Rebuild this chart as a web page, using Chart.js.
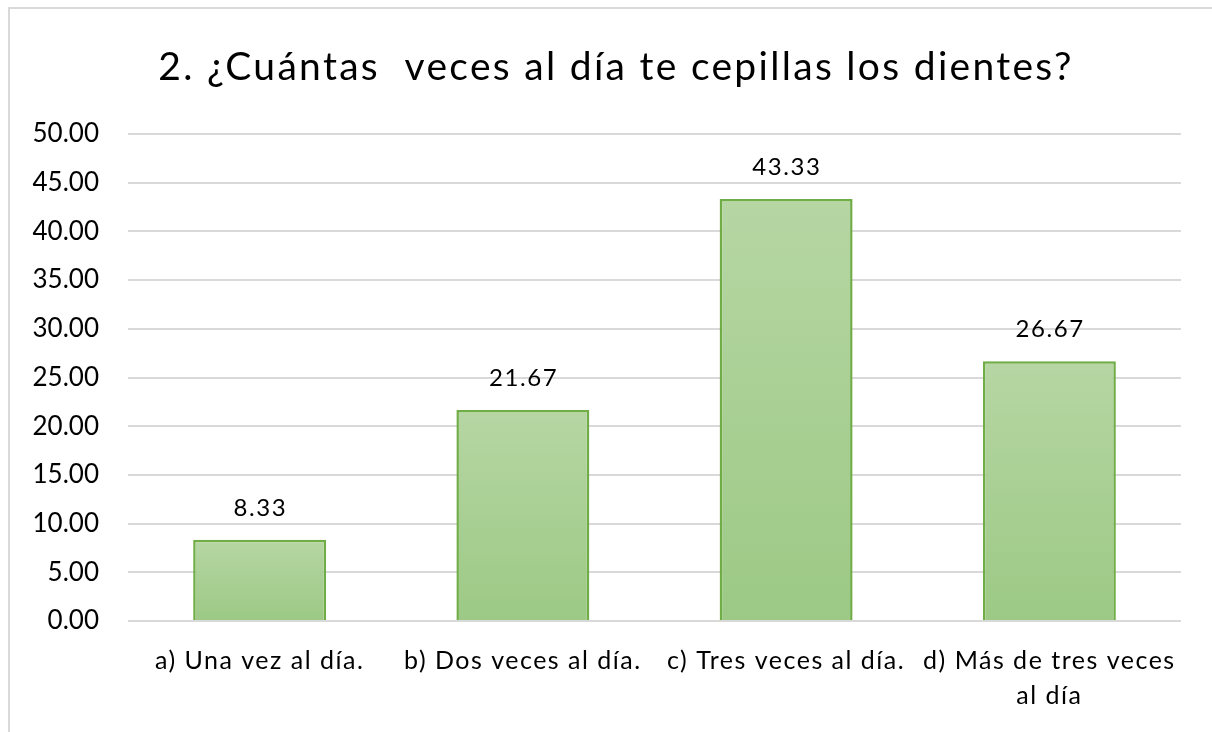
<!DOCTYPE html>
<html>
<head>
<meta charset="utf-8">
<script src="https://cdn.jsdelivr.net/npm/chart.js@4.4.1/dist/chart.umd.min.js"></script>
<style>
  html, body { margin: 0; padding: 0; background: #ffffff; overflow: hidden; }
  #wrap { position: relative; width: 1212px; height: 732px; }
  #frame { position: absolute; left: 8px; top: 7px; width: 1220px; height: 740px;
           border: 2px solid #d9d9d9; box-sizing: border-box; pointer-events: none; }
  canvas { position: absolute; left: 0; top: 0; }
</style>
</head>
<body>
<div id="wrap">
  <canvas id="c" width="1212" height="732"></canvas>
  <div id="frame"></div>
</div>
<script>
const titleText = '2. ¿Cuántas  veces al día te cepillas los dientes?';
const categories = [
  'a) Una vez al día.',
  'b) Dos veces al día.',
  'c) Tres veces al día.',
  ['d) Más de tres veces', 'al día']
];
const values = [8.33, 21.67, 43.33, 26.67];
const yTicksMin = 0;
const yTicksMax = 50;
const yTickStep = 5;

const FONT = 'Lato, "Open Sans", sans-serif';

const titleAndLabels = {
  id: 'titleAndLabels',
  beforeDraw(chart) {
    const s = chart.scales.x;
    if (s && !s._spacedPatch) {
      const orig = s.drawLabels.bind(s);
      s.drawLabels = function (area) {
        const ctx = this.ctx;
        ctx.save();
        ctx.letterSpacing = '1.5px';
        orig(area);
        ctx.restore();
      };
      s._spacedPatch = true;
    }
  },
  afterDatasetsDraw(chart) {
    const ctx = chart.ctx;
    const meta = chart.getDatasetMeta(0);
    ctx.save();
    ctx.font = '24px ' + FONT;
    ctx.letterSpacing = '1.6px';
    ctx.fillStyle = '#000000';
    ctx.textAlign = 'center';
    ctx.textBaseline = 'middle';
    meta.data.forEach((bar, i) => {
      ctx.fillText(values[i].toFixed(2), bar.x + 0.8, bar.y - 32);
    });
    ctx.restore();
  },
  afterDraw(chart) {
    const ctx = chart.ctx;
    ctx.save();
    ctx.font = '39px ' + FONT;
    ctx.letterSpacing = '2.3px';
    ctx.fillStyle = '#000000';
    ctx.textAlign = 'center';
    ctx.textBaseline = 'alphabetic';
    ctx.fillText(titleText, 616, 80);
    ctx.restore();
  }
};

function barGradient(context) {
  const chart = context.chart;
  const area = chart.chartArea;
  if (!area || context.type !== 'data') return '#a9d08e';
  const y = chart.scales.y;
  const top = y.getPixelForValue(context.raw);
  const base = y.getPixelForValue(0);
  if (!isFinite(top) || !isFinite(base) || top === base) return '#a9d08e';
  const g = chart.ctx.createLinearGradient(0, top, 0, base);
  g.addColorStop(0, '#b6d6a3');
  g.addColorStop(1, '#9cc985');
  return g;
}

new Chart(document.getElementById('c'), {
  type: 'bar',
  data: {
    labels: categories,
    datasets: [{
      data: values,
      backgroundColor: barGradient,
      borderColor: '#70ad47',
      borderWidth: 2.5,
      categoryPercentage: 1.0,
      barPercentage: 0.505
    }]
  },
  plugins: [titleAndLabels],
  options: {
    responsive: false,
    animation: false,
    devicePixelRatio: 1,
    layout: { padding: { left: 0, right: 31, top: 134, bottom: 0 } },
    plugins: {
      legend: { display: false },
      tooltip: { enabled: false },
      title: { display: false }
    },
    scales: {
      x: {
        grid: { display: false, drawTicks: false },
        border: { display: false },
        ticks: {
          color: '#000000',
          font: { family: FONT, size: 25, lineHeight: 1.4 },
          padding: 22,
          maxRotation: 0,
          autoSkip: false
        },
        afterFit(scale) { scale.height = 732 - 621; }
      },
      y: {
        min: yTicksMin,
        max: yTicksMax,
        grid: { color: '#d9d9d9', lineWidth: 2, drawTicks: false },
        border: { display: false },
        ticks: {
          stepSize: yTickStep,
          color: '#000000',
          font: { family: FONT, size: 26 },
          padding: 29,
          callback: v => Number(v).toFixed(2)
        },
        afterFit(scale) { scale.width = 128; }
      }
    }
  }
});
</script>
</body>
</html>
